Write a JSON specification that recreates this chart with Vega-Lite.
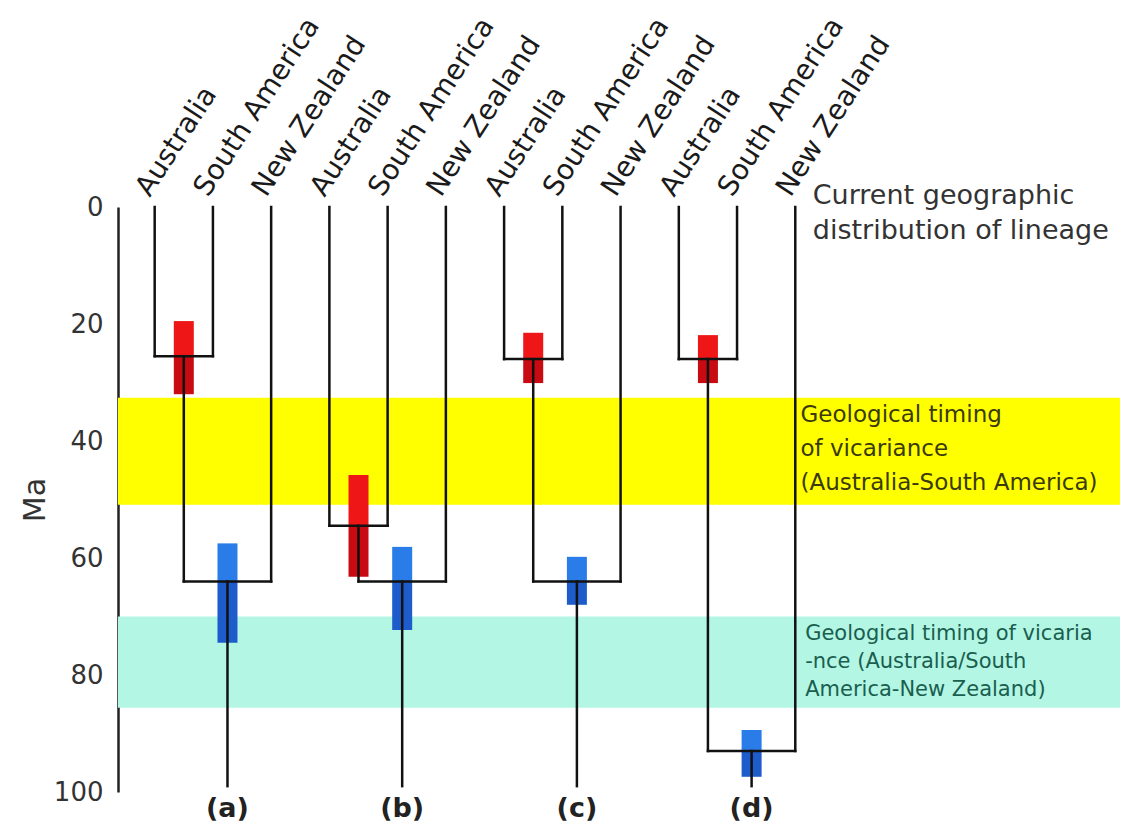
{
  "$schema": "https://vega.github.io/schema/vega-lite/v6.json",
  "width": 1002,
  "height": 585,
  "autosize": "none",
  "padding": {"left": 118, "top": 207, "right": 10, "bottom": 48},
  "background": "white",
  "config": {"view": {"stroke": null}, "font": "DejaVu Sans"},
  "datasets": {
    "bands": [
      {"band": "Geological timing of vicariance (Australia-South America)", "from": 32.6, "to": 50.9},
      {"band": "Geological timing of vicariance (Australia/South America-New Zealand)", "from": 70.0, "to": 85.6}
    ],
    "segments": [
      {"tree": "a", "x": 0, "x2": 0, "y": 0, "y2": 25.5},
      {"tree": "a", "x": 1, "x2": 1, "y": 0, "y2": 25.5},
      {"tree": "a", "x": 0, "x2": 1, "y": 25.5, "y2": 25.5},
      {"tree": "a", "x": 0.5, "x2": 0.5, "y": 25.5, "y2": 64},
      {"tree": "a", "x": 2, "x2": 2, "y": 0, "y2": 64},
      {"tree": "a", "x": 0.5, "x2": 2, "y": 64, "y2": 64},
      {"tree": "a", "x": 1.25, "x2": 1.25, "y": 64, "y2": 99},
      {"tree": "b", "x": 3, "x2": 3, "y": 0, "y2": 54.5},
      {"tree": "b", "x": 4, "x2": 4, "y": 0, "y2": 54.5},
      {"tree": "b", "x": 3, "x2": 4, "y": 54.5, "y2": 54.5},
      {"tree": "b", "x": 3.5, "x2": 3.5, "y": 54.5, "y2": 64},
      {"tree": "b", "x": 5, "x2": 5, "y": 0, "y2": 64},
      {"tree": "b", "x": 3.5, "x2": 5, "y": 64, "y2": 64},
      {"tree": "b", "x": 4.25, "x2": 4.25, "y": 64, "y2": 99},
      {"tree": "c", "x": 6, "x2": 6, "y": 0, "y2": 26},
      {"tree": "c", "x": 7, "x2": 7, "y": 0, "y2": 26},
      {"tree": "c", "x": 6, "x2": 7, "y": 26, "y2": 26},
      {"tree": "c", "x": 6.5, "x2": 6.5, "y": 26, "y2": 64},
      {"tree": "c", "x": 8, "x2": 8, "y": 0, "y2": 64},
      {"tree": "c", "x": 6.5, "x2": 8, "y": 64, "y2": 64},
      {"tree": "c", "x": 7.25, "x2": 7.25, "y": 64, "y2": 99},
      {"tree": "d", "x": 9, "x2": 9, "y": 0, "y2": 26},
      {"tree": "d", "x": 10, "x2": 10, "y": 0, "y2": 26},
      {"tree": "d", "x": 9, "x2": 10, "y": 26, "y2": 26},
      {"tree": "d", "x": 9.5, "x2": 9.5, "y": 26, "y2": 93},
      {"tree": "d", "x": 11, "x2": 11, "y": 0, "y2": 93},
      {"tree": "d", "x": 9.5, "x2": 11, "y": 93, "y2": 93},
      {"tree": "d", "x": 10.25, "x2": 10.25, "y": 93, "y2": 99}
    ],
    "bars": [
      {"tree": "a", "x": 0.5, "lo": 19.5, "hi": 25.5, "est": "Australia-South America split, younger"},
      {"tree": "a", "x": 0.5, "lo": 25.5, "hi": 32.0, "est": "Australia-South America split, older"},
      {"tree": "a", "x": 1.25, "lo": 57.5, "hi": 64.0, "est": "New Zealand split, younger"},
      {"tree": "a", "x": 1.25, "lo": 64.0, "hi": 74.5, "est": "New Zealand split, older"},
      {"tree": "b", "x": 3.5, "lo": 45.8, "hi": 54.5, "est": "Australia-South America split, younger"},
      {"tree": "b", "x": 3.5, "lo": 54.5, "hi": 63.2, "est": "Australia-South America split, older"},
      {"tree": "b", "x": 4.25, "lo": 58.1, "hi": 64.0, "est": "New Zealand split, younger"},
      {"tree": "b", "x": 4.25, "lo": 64.0, "hi": 72.3, "est": "New Zealand split, older"},
      {"tree": "c", "x": 6.5, "lo": 21.5, "hi": 26.0, "est": "Australia-South America split, younger"},
      {"tree": "c", "x": 6.5, "lo": 26.0, "hi": 30.1, "est": "Australia-South America split, older"},
      {"tree": "c", "x": 7.25, "lo": 59.8, "hi": 64.0, "est": "New Zealand split, younger"},
      {"tree": "c", "x": 7.25, "lo": 64.0, "hi": 68.0, "est": "New Zealand split, older"},
      {"tree": "d", "x": 9.5, "lo": 21.9, "hi": 26.0, "est": "Australia-South America split, younger"},
      {"tree": "d", "x": 9.5, "lo": 26.0, "hi": 30.1, "est": "Australia-South America split, older"},
      {"tree": "d", "x": 10.25, "lo": 89.4, "hi": 93.0, "est": "New Zealand split, younger"},
      {"tree": "d", "x": 10.25, "lo": 93.0, "hi": 97.4, "est": "New Zealand split, older"}
    ],
    "tips": [
      {"x": 0, "name": "Australia"}, {"x": 1, "name": "South America"}, {"x": 2, "name": "New Zealand"},
      {"x": 3, "name": "Australia"}, {"x": 4, "name": "South America"}, {"x": 5, "name": "New Zealand"},
      {"x": 6, "name": "Australia"}, {"x": 7, "name": "South America"}, {"x": 8, "name": "New Zealand"},
      {"x": 9, "name": "Australia"}, {"x": 10, "name": "South America"}, {"x": 11, "name": "New Zealand"}
    ],
    "roots": [
      {"x": 1.25, "label": "(a)"}, {"x": 4.25, "label": "(b)"},
      {"x": 7.25, "label": "(c)"}, {"x": 10.25, "label": "(d)"}
    ]
  },
  "layer": [
    {
      "data": {"name": "bands"},
      "mark": {"type": "rect"},
      "encoding": {
        "y": {"field": "from", "type": "quantitative",
              "scale": {"domain": [0, 100], "reverse": true, "nice": false, "zero": false},
              "axis": {"values": [0, 20, 40, 60, 80, 100], "ticks": false, "tickSize": 0, "grid": false,
                       "domain": true, "domainColor": "#222222", "domainWidth": 2.5,
                       "labelFontSize": 26, "labelColor": "#333333", "labelPadding": 15, "labelFont": "DejaVu Sans",
                       "title": "Ma", "titleFontSize": 30, "titleFontWeight": "normal", "titleColor": "#333333",
                       "titlePadding": 3, "titleFont": "DejaVu Sans"}},
        "y2": {"field": "to"},
        "color": {"field": "band", "type": "nominal",
                  "scale": {"domain": ["Geological timing of vicariance (Australia-South America)", "Geological timing of vicariance (Australia/South America-New Zealand)"],
                            "range": ["#ffff00", "#b3f6e3"]},
                  "legend": null}
      }
    },
    {
      "data": {"name": "bars"},
      "mark": {"type": "bar", "width": 20},
      "encoding": {
        "x": {"field": "x", "type": "quantitative", "scale": {"domain": [-0.544, 16.49], "nice": false, "zero": false}, "axis": null},
        "y": {"field": "lo", "type": "quantitative"},
        "y2": {"field": "hi"},
        "color": {"field": "est", "type": "nominal",
                  "scale": {"domain": ["Australia-South America split, younger", "Australia-South America split, older", "New Zealand split, younger", "New Zealand split, older"],
                            "range": ["#ee1616", "#c80a12", "#2a7de8", "#1e5ccc"]},
                  "legend": null}
      }
    },
    {
      "data": {"name": "segments"},
      "mark": {"type": "rule", "color": "#111111", "strokeWidth": 2.5, "strokeCap": "square"},
      "encoding": {
        "x": {"field": "x", "type": "quantitative"},
        "x2": {"field": "x2"},
        "y": {"field": "y", "type": "quantitative"},
        "y2": {"field": "y2"}
      }
    },
    {
      "data": {"name": "tips"},
      "mark": {"type": "text", "angle": -57, "align": "left", "baseline": "alphabetic", "dx": 5, "dy": -9,
               "fontSize": 28, "font": "DejaVu Sans", "color": "#1a1a1a"},
      "encoding": {
        "x": {"field": "x", "type": "quantitative"},
        "y": {"datum": 0, "type": "quantitative"},
        "text": {"field": "name"}
      }
    },
    {
      "data": {"name": "roots"},
      "mark": {"type": "text", "align": "center", "baseline": "middle", "dy": 17,
               "fontSize": 27, "fontWeight": "bold", "font": "DejaVu Sans", "color": "#222222"},
      "encoding": {
        "x": {"field": "x", "type": "quantitative"},
        "y": {"datum": 100, "type": "quantitative"},
        "text": {"field": "label"}
      }
    },
    {
      "data": {"values": [{"note": "Current geographic\ndistribution of lineage"}]},
      "mark": {"type": "text", "align": "left", "baseline": "alphabetic", "dy": -3, "lineBreak": "\n", "lineHeight": 35,
               "fontSize": 27, "font": "DejaVu Sans", "color": "#333333"},
      "encoding": {
        "x": {"datum": 11.3, "type": "quantitative"},
        "y": {"datum": 0, "type": "quantitative"},
        "text": {"field": "note"}
      }
    },
    {
      "data": {"values": [{"from": 32.6, "note": "Geological timing\nof vicariance\n(Australia-South America)"}]},
      "mark": {"type": "text", "align": "left", "baseline": "alphabetic", "dy": 24, "lineBreak": "\n", "lineHeight": 34,
               "fontSize": 23, "font": "DejaVu Sans", "color": "#3a3a0a"},
      "encoding": {
        "x": {"datum": 11.09, "type": "quantitative"},
        "y": {"field": "from", "type": "quantitative"},
        "text": {"field": "note"}
      }
    },
    {
      "data": {"values": [{"from": 70.0, "note": "Geological timing of vicaria\n-nce (Australia/South\nAmerica-New Zealand)"}]},
      "mark": {"type": "text", "align": "left", "baseline": "alphabetic", "dy": 23, "lineBreak": "\n", "lineHeight": 28,
               "fontSize": 21, "font": "DejaVu Sans", "color": "#1a5e50"},
      "encoding": {
        "x": {"datum": 11.17, "type": "quantitative"},
        "y": {"field": "from", "type": "quantitative"},
        "text": {"field": "note"}
      }
    }
  ],
  "resolve": {"scale": {"color": "independent"}}
}
